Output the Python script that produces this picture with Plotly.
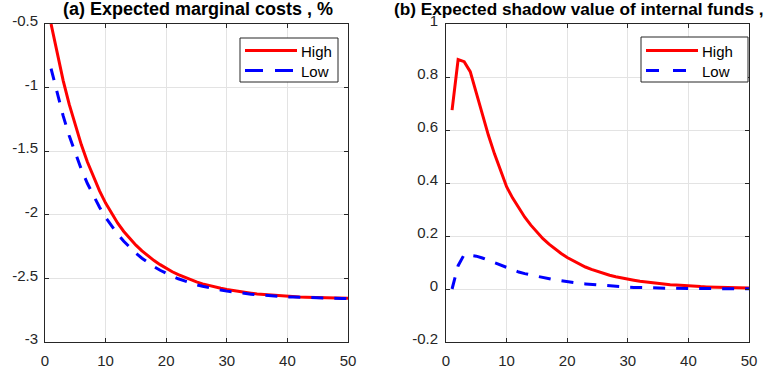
import plotly.graph_objects as go

periods = list(range(1, 51))

mc_high = [-0.500, -0.735, -0.945, -1.132, -1.298, -1.450, -1.585, -1.705, -1.812, -1.908,
           -1.992, -2.066, -2.131, -2.188, -2.239, -2.284, -2.324, -2.360, -2.392, -2.421,
           -2.448, -2.471, -2.492, -2.511, -2.528, -2.543, -2.556, -2.568, -2.578, -2.588,
           -2.596, -2.604, -2.610, -2.616, -2.622, -2.626, -2.630, -2.634, -2.638, -2.641,
           -2.643, -2.646, -2.648, -2.650, -2.651, -2.653, -2.654, -2.655, -2.656, -2.657]
mc_low = [-0.850, -1.047, -1.223, -1.379, -1.519, -1.644, -1.754, -1.853, -1.941, -2.020,
          -2.090, -2.152, -2.208, -2.258, -2.302, -2.341, -2.376, -2.408, -2.436, -2.461,
          -2.483, -2.503, -2.520, -2.536, -2.550, -2.562, -2.574, -2.584, -2.592, -2.600,
          -2.607, -2.614, -2.619, -2.624, -2.629, -2.633, -2.636, -2.639, -2.642, -2.645,
          -2.647, -2.649, -2.651, -2.652, -2.653, -2.655, -2.656, -2.657, -2.658, -2.658]

sv_high = [0.675, 0.866, 0.858, 0.820, 0.740, 0.655, 0.580, 0.510, 0.445, 0.386,
           0.343, 0.305, 0.271, 0.241, 0.214, 0.190, 0.169, 0.150, 0.134, 0.119,
           0.106, 0.094, 0.083, 0.074, 0.066, 0.059, 0.052, 0.046, 0.041, 0.037,
           0.033, 0.029, 0.026, 0.023, 0.021, 0.018, 0.016, 0.015, 0.013, 0.012,
           0.010, 0.009, 0.008, 0.0075, 0.0067, 0.006, 0.0053, 0.0047, 0.0042, 0.0037]
sv_low = [0.000, 0.088, 0.130, 0.128, 0.124, 0.117, 0.108, 0.099, 0.089, 0.080,
          0.071, 0.064, 0.058, 0.053, 0.047, 0.042, 0.038, 0.034, 0.031, 0.027,
          0.024, 0.021, 0.019, 0.017, 0.015, 0.013, 0.011, 0.0095, 0.008, 0.007,
          0.006, 0.005, 0.0045, 0.004, 0.0035, 0.003, 0.0027, 0.0024, 0.0021, 0.0018,
          0.0016, 0.0014, 0.0012, 0.0011, 0.001, 0.0009, 0.0008, 0.0007, 0.0006, 0.0005]

x_ticks = [0, 10, 20, 30, 40, 50]
x_ticktext = ["0", "10", "20", "30", "40", "50"]
y1_ticks = [-3, -2.5, -2, -1.5, -1, -0.5]
y1_ticktext = ["-3", "-2.5", "-2", "-1.5", "-1", "-0.5"]
y2_ticks = [-0.2, 0, 0.2, 0.4, 0.6, 0.8, 1]
y2_ticktext = ["-0.2", "0", "0.2", "0.4", "0.6", "0.8", "1"]

title_a = "(a) Expected marginal costs , %"
title_b = "(b) Expected shadow value of internal funds ,"
series_names = ["High", "Low"]

W, H = 784, 375
FONT = "Liberation Sans, Arial, sans-serif"
AX = "#262626"
GRID = "#e3e3e3"
RED = "#ff0000"
BLUE = "#0000ff"

fig = go.Figure()
fig.add_trace(go.Scatter(x=periods, y=mc_high, mode="lines", name=series_names[0], showlegend=False,
                         line=dict(color=RED, width=3), xaxis="x", yaxis="y"))
fig.add_trace(go.Scatter(x=periods, y=mc_low, mode="lines", name=series_names[1], showlegend=False,
                         line=dict(color=BLUE, width=3, dash="12px,11px"), xaxis="x", yaxis="y"))
fig.add_trace(go.Scatter(x=periods, y=sv_high, mode="lines", name=series_names[0], showlegend=False,
                         line=dict(color=RED, width=3), xaxis="x2", yaxis="y2"))
fig.add_trace(go.Scatter(x=periods, y=sv_low, mode="lines", name=series_names[1], showlegend=False,
                         line=dict(color=BLUE, width=3, dash="12px,11px"), xaxis="x2", yaxis="y2"))


def px_x(p):
    return p / W


def px_y(p):
    return 1 - p / H


common_axis = dict(showline=True, linecolor=AX, linewidth=1, mirror="ticks", ticks="inside",
                   ticklen=4, tickcolor=AX, showgrid=True, gridcolor=GRID, gridwidth=1,
                   zeroline=False, automargin=False, tickfont=dict(family=FONT, size=15, color=AX))

shapes = []
annotations = []


def add_legend(x0, x1, y0, y1, sample_x0, sample_x1, text_x, rows):
    shapes.append(dict(type="rect", xref="paper", yref="paper",
                       x0=px_x(x0), x1=px_x(x1), y0=px_y(y1), y1=px_y(y0),
                       line=dict(color=AX, width=1), fillcolor="white", layer="above"))
    for (yy, name, color, dash) in rows:
        shapes.append(dict(type="line", xref="paper", yref="paper",
                           x0=px_x(sample_x0), x1=px_x(sample_x1), y0=px_y(yy), y1=px_y(yy),
                           line=dict(color=color, width=3, dash=dash), layer="above"))
        annotations.append(dict(text=name, xref="paper", yref="paper", x=px_x(text_x), y=px_y(yy + 1),
                                xanchor="left", yanchor="middle", showarrow=False,
                                font=dict(family=FONT, size=15, color="black")))


add_legend(240, 338, 38, 82, 245, 297, 299,
           [(50.5, series_names[0], RED, "solid"), (70.5, series_names[1], BLUE, "18px,12px")])
add_legend(641, 748, 37, 82, 646, 698, 700,
           [(50.5, series_names[0], RED, "solid"), (70.5, series_names[1], BLUE, "13px,14px")])

annotations.append(dict(text="<b>" + title_a + "</b>", xref="paper", yref="paper", x=px_x(197.5), y=px_y(9.5),
                        xanchor="center", yanchor="middle", showarrow=False,
                        font=dict(family=FONT, size=18, color="black")))
annotations.append(dict(text="<b>" + title_b + "</b>", xref="paper", yref="paper", x=px_x(392), y=px_y(9.5),
                        xanchor="left", yanchor="middle", showarrow=False,
                        font=dict(family=FONT, size=17.2, color="black")))

fig.update_layout(
    width=W, height=H,
    margin=dict(l=0, r=0, t=0, b=0, autoexpand=False),
    paper_bgcolor="white", plot_bgcolor="white",
    showlegend=False,
    xaxis=dict(domain=[px_x(45), px_x(348)], range=[0, 50], tickvals=x_ticks, ticktext=x_ticktext,
               anchor="y", ticklabelstandoff=5, **common_axis),
    yaxis=dict(domain=[px_y(342), px_y(24)], range=[-3, -0.5], tickvals=y1_ticks, ticktext=y1_ticktext,
               anchor="x", ticklabelstandoff=3, ticklabelshift=-3, **common_axis),
    xaxis2=dict(domain=[px_x(446), px_x(749)], range=[0, 50], tickvals=x_ticks, ticktext=x_ticktext,
                anchor="y2", ticklabelstandoff=5, **common_axis),
    yaxis2=dict(domain=[px_y(342), px_y(24)], range=[-0.2, 1], tickvals=y2_ticks, ticktext=y2_ticktext,
                anchor="x2", ticklabelstandoff=4, ticklabelshift=-3, **common_axis),
    shapes=shapes,
    annotations=annotations,
)

fig.write_html("out.html", config={"displayModeBar": False},
               post_script="document.body.style.margin='0px';document.body.style.overflow='hidden';")
